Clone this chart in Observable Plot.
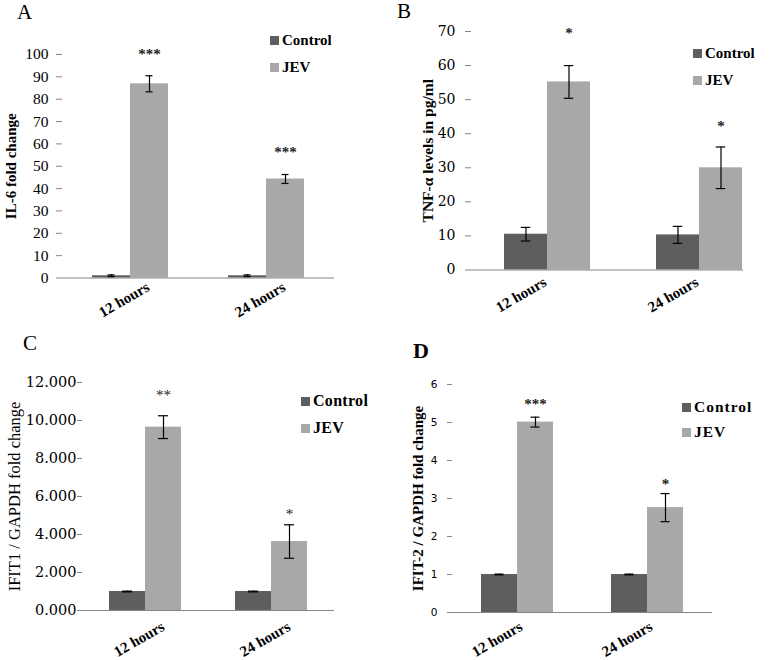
<!DOCTYPE html>
<html><head><meta charset="utf-8">
<script src="https://cdn.jsdelivr.net/npm/d3@7"></script>
<script src="https://cdn.jsdelivr.net/npm/@observablehq/plot@0.6"></script>
<style>
html,body{margin:0;padding:0;background:#fff;}
#root{position:relative;width:778px;height:660px;overflow:hidden;background:#fff;}
.panel{position:absolute;}
.panel svg{background:transparent;}
.letter{position:absolute;font-family:"Liberation Serif",serif;line-height:1;color:#000;}
.leg{position:absolute;display:flex;align-items:center;height:18px;font-family:"Liberation Serif",serif;font-weight:bold;color:#000;white-space:nowrap;line-height:1;}
.sw{width:9px;height:9px;margin-right:3px;flex:none;}
</style></head><body><div id="root"></div>
<script>
// ---------- shared categories ----------
const times = ["12 hours", "24 hours"];
const groups = ["Control", "JEV"];
const groupColors = ["#5e5e5e", "#a8a8a8"];

// ---------- Panel A : IL-6 fold change ----------
const aControl = [1.0, 1.0];
const aControlErr = [0.4, 0.4];
const aJEV = [86.9, 44.3];
const aJEVErr = [3.6, 2.0];
const aStars = ["***", "***"];
const aStarY = [100.9, 57.0];
const aTicks = [0, 10, 20, 30, 40, 50, 60, 70, 80, 90, 100];

// ---------- Panel B : TNF-alpha ----------
const bControl = [10.5, 10.3];
const bControlErr = [2.0, 2.5];
const bJEV = [55.2, 30.0];
const bJEVErr = [4.8, 6.1];
const bStars = ["*", "*"];
const bStarY = [70.1, 42.9];
const bTicks = [0, 10, 20, 30, 40, 50, 60, 70];

// ---------- Panel C : IFIT1 ----------
const cControl = [1.0, 1.0];
const cControlErr = [0.02, 0.02];
const cJEV = [9.65, 3.63];
const cJEVErr = [0.6, 0.88];
const cStars = ["**", "*"];
const cStarY = [11.42, 5.16];
const cTicks = [0, 2, 4, 6, 8, 10, 12];

// ---------- Panel D : IFIT-2 ----------
const dControl = [1.0, 1.0];
const dControlErr = [0.01, 0.01];
const dJEV = [5.01, 2.76];
const dJEVErr = [0.13, 0.37];
const dStars = ["***", "*"];
const dStarY = [5.53, 3.42];
const dTicks = [0, 1, 2, 3, 4, 5, 6];

const root = document.getElementById("root");

function buildPanel(data, cfg) {
  const rows = [];
  times.forEach((t, i) => {
    rows.push({time: t, group: "Control", value: data.control[i], err: data.controlErr[i]});
    rows.push({time: t, group: "JEV", value: data.jev[i], err: data.jevErr[i]});
  });
  const stars = times.map((t, i) => ({time: t, group: "JEV", label: data.stars[i], y: data.starY[i]}));
  const fx = {domain: times, padding: 0, axis: null, label: null};
  if (cfg.fxRange) fx.range = cfg.fxRange;
  const chart = Plot.plot({
    width: cfg.width, height: cfg.height,
    marginTop: cfg.mt, marginBottom: cfg.mb, marginLeft: cfg.ml, marginRight: cfg.mr,
    style: {background: "transparent", overflow: cfg.clip ? "hidden" : "visible"},
    fx,
    x: {domain: groups, paddingInner: 0, paddingOuter: cfg.pad, axis: null, label: null},
    y: {domain: cfg.domain, axis: null, label: null},
    color: {domain: groups, range: groupColors},
    marks: [
      Plot.barY(rows, {fx: "time", x: "group", y: "value", fill: "group"}),
      Plot.ruleY([0], {stroke: "#868686", strokeWidth: 1}),
      Plot.ruleX(rows, {fx: "time", x: "group", y1: d => d.value - d.err, y2: d => d.value + d.err, stroke: "#000", strokeWidth: 1.2}),
      Plot.tickY(rows, {fx: "time", x: "group", y: d => d.value + d.err, stroke: "#000", strokeWidth: 1.2, insetLeft: cfg.capInset, insetRight: cfg.capInset}),
      Plot.tickY(rows, {fx: "time", x: "group", y: d => d.value - d.err, stroke: "#000", strokeWidth: 1.2, insetLeft: cfg.capInset, insetRight: cfg.capInset}),
      Plot.text(stars, {fx: "time", x: "group", y: "y", text: "label", dy: 2, fontFamily: "Liberation Serif", fontWeight: cfg.starWeight, fontSize: cfg.starSize, fill: "#222"}),
      Plot.text(times, {fx: d => d, text: d => d, frameAnchor: "bottom", rotate: -30, textAnchor: "end", dx: cfg.catDx, dy: cfg.catDy, fontFamily: "Liberation Serif", fontWeight: "bold", fontSize: 15, fill: "#000"}),
      Plot.axisY({ticks: data.ticks, tickFormat: cfg.fmt, tickSize: cfg.tickLen, tickPadding: cfg.tickPad, stroke: "#868686", fill: "#000", line: true, label: null, fontFamily: cfg.tickFont, fontSize: cfg.tickFontSize}),
      Plot.text([cfg.ylabel], {fx: () => times[0], text: d => d, frameAnchor: "left", textAnchor: "middle", rotate: -90, dx: cfg.ylabelDx, fontFamily: "Liberation Serif", fontWeight: cfg.ylabelWeight, fontSize: cfg.ylabelSize, fill: "#000"})
    ]
  });
  chart.style.overflow = cfg.clip ? "hidden" : "visible";
  chart.style.background = "transparent";
  const holder = document.createElement("div");
  holder.className = "panel " + cfg.cls;
  holder.style.left = cfg.left + "px";
  holder.style.top = cfg.top + "px";
  holder.style.width = cfg.width + "px";
  holder.style.height = cfg.height + "px";
  holder.appendChild(chart);
  root.appendChild(holder);
}

buildPanel(
  {control: aControl, controlErr: aControlErr, jev: aJEV, jevErr: aJEVErr, stars: aStars, starY: aStarY, ticks: aTicks},
  {cls: "pa", left: 0, top: 0, width: 390, height: 330, mt: 54, mb: 52.5, ml: 62, mr: 56, pad: 0.789, capInset: 15.5,
   domain: [0, 100], fmt: d3.format("d"), tickFont: "Liberation Serif", tickFontSize: 15.5, tickLen: 6, tickPad: 8,
   ylabel: "IL-6 fold change", ylabelDx: -51, ylabelWeight: "bold", ylabelSize: 15,
   catDx: 20, catDy: 12, starSize: 15, starWeight: "bold"}
);
buildPanel(
  {control: bControl, controlErr: bControlErr, jev: bJEV, jevErr: bJEVErr, stars: bStars, starY: bStarY, ticks: bTicks},
  {cls: "pb", clip: true, left: 390, top: 0, width: 353, height: 330, mt: 31, mb: 60.5, ml: 80, mr: 0, fxRange: [80, 385], pad: 0.753, capInset: 16.75,
   domain: [0, 70], fmt: d3.format("d"), tickFont: "DejaVu Serif", tickFontSize: 14, tickLen: 6, tickPad: 10,
   ylabel: "TNF-α levels in pg/ml", ylabelDx: -43, ylabelWeight: "bold", ylabelSize: 15.5,
   catDx: 0, catDy: 15, starSize: 15, starWeight: "bold"}
);
buildPanel(
  {control: cControl, controlErr: cControlErr, jev: cJEV, jevErr: cJEVErr, stars: cStars, starY: cStarY, ticks: cTicks},
  {cls: "pc", left: 0, top: 330, width: 390, height: 330, mt: 52, mb: 50, ml: 82, mr: 56, pad: 0.75, capInset: 13,
   domain: [0, 12], fmt: d3.format(".3f"), tickFont: "DejaVu Serif", tickFontSize: 14.5, tickLen: 5, tickPad: 1,
   ylabel: "IFIT1 / GAPDH fold change", ylabelDx: -68, ylabelWeight: "normal", ylabelSize: 16.5,
   catDx: 20, catDy: 19, starSize: 15, starWeight: "normal"}
);
buildPanel(
  {control: dControl, controlErr: dControlErr, jev: dJEV, jevErr: dJEVErr, stars: dStars, starY: dStarY, ticks: dTicks},
  {cls: "pd", left: 390, top: 330, width: 388, height: 330, mt: 54, mb: 48, ml: 62, mr: 66, pad: 0.757, capInset: 13.5,
   domain: [0, 6], fmt: d3.format("d"), tickFont: "DejaVu Sans", tickFontSize: 10.5, tickLen: 5, tickPad: 10,
   ylabel: "IFIT-2 / GAPDH fold change", ylabelDx: -34, ylabelWeight: "bold", ylabelSize: 15,
   catDx: 6, catDy: 17, starSize: 15, starWeight: "bold"}
);

// ---------- panel letters ----------
const letters = [
  {t: "A", left: 17, top: 1.5, size: 21, weight: "normal"},
  {t: "B", left: 397, top: 0.5, size: 21, weight: "normal"},
  {t: "C", left: 23, top: 332.5, size: 21, weight: "normal"},
  {t: "D", left: 413, top: 339.5, size: 22, weight: "bold"}
];
letters.forEach(l => {
  const el = document.createElement("div");
  el.className = "letter";
  el.textContent = l.t;
  el.style.left = l.left + "px";
  el.style.top = l.top + "px";
  el.style.fontSize = l.size + "px";
  el.style.fontWeight = l.weight;
  root.appendChild(el);
});

// ---------- legends ----------
const legends = [
  {left: 270, cy: [40, 67], size: 15, spacing: 0},
  {left: 693, cy: [53, 80], size: 15, spacing: 0},
  {left: 301, cy: [401, 428], size: 16, spacing: 0.3},
  {left: 682, cy: [407, 432], size: 15.5, spacing: 1}
];
legends.forEach(lg => {
  groups.forEach((g, i) => {
    const row = document.createElement("div");
    row.className = "leg";
    row.style.left = lg.left + "px";
    row.style.top = (lg.cy[i] - 9) + "px";
    row.style.fontSize = lg.size + "px";
    row.style.letterSpacing = lg.spacing + "px";
    const sw = document.createElement("div");
    sw.className = "sw";
    sw.style.background = groupColors[i];
    const tx = document.createElement("span");
    tx.textContent = g;
    row.appendChild(sw);
    row.appendChild(tx);
    root.appendChild(row);
  });
});
</script></body></html>
